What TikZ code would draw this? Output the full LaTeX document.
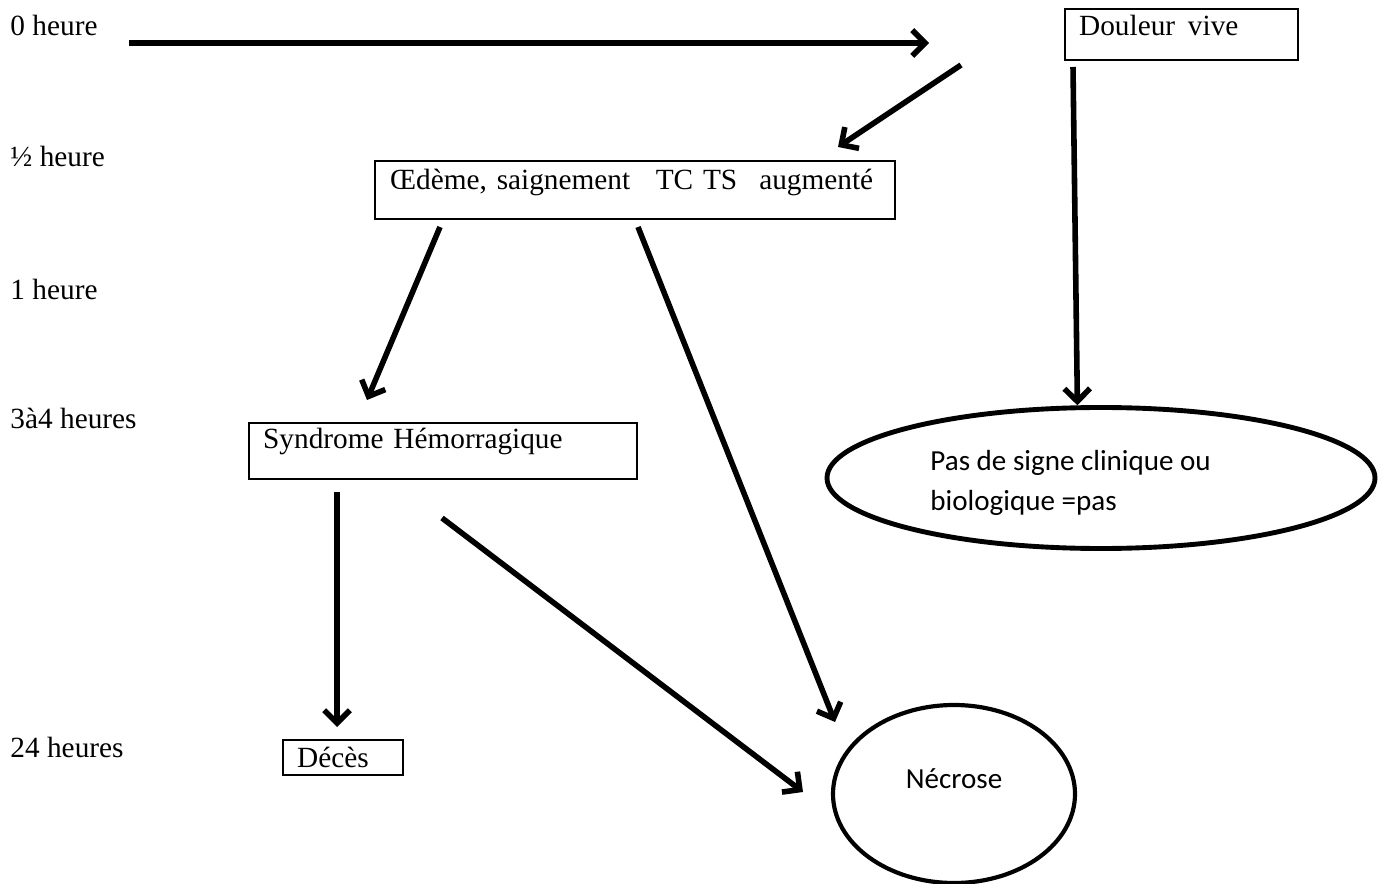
\documentclass[tikz,border=0pt]{standalone}
\usepackage{fontspec}
\setmainfont{Liberation Serif}
\newfontfamily\carlito{Carlito}
\usepackage{tikz}
\usetikzlibrary{arrows.meta,positioning,shapes.geometric}
\newdimen\px
\px=0.43pt
\tikzset{
boite/.style={
  draw=black,
  line width=1pt,
  anchor=north west,
  inner ysep=0pt,
  inner xsep=14\px,
  align=left,
  font=\fontsize{12.6}{14}\selectfont,
  }
}
\tikzset{
bulle/.style={
  ellipse,
  draw=black,
  line width=2.1pt,
  inner sep=0pt,
  }
}
\tikzset{
heure/.style={
  anchor=base west,
  inner sep=0pt,
  font=\fontsize{12.6}{14}\selectfont,
  }
}
\tikzset{
fleche/.style={
  line width=2.4pt,
  -{Straight Barb[length=5.5pt,width=11pt]}
  }
}

\begin{document}
\begin{tikzpicture}[x=0.43pt,y=-0.43pt]
    \useasboundingbox (0,0) rectangle (1387,884);

    % echelle de temps
    \node[heure] (h0) at (10,36) {0 heure};
    \node[heure] (hdemi) at (10,167) {½ heure};
    \node[heure] (h1) at (10,300) {1 heure};
    \node[heure] (h34) at (10,429) {3à4 heures};
    \node[heure] (h24) at (10,757) {24 heures};

    % boites
    \node[boite, text width=205\px, text height=26\px, text depth=25\px] (dlr) at (1064,8) {\mbox{Douleur\hspace{5.5pt}vive}};
    \node[boite, inner xsep=15\px, text width=490\px, text height=28\px, text depth=30\px] (oed) at (374,160) {\mbox{Œdème, saignement\hspace{11pt}TC TS\hspace{9.5pt}augmenté}};
    \node[boite, text width=360\px, text height=25\px, text depth=31\px] (synd) at (248,422) {\mbox{Syndrome Hémorragique}};
    \node[boite, text width=92\px, text height=27\px, text depth=8\px] (dec) at (282,739) {\mbox{Décès}};

    % ellipses
    \node[bulle, minimum width=548\px, minimum height=141\px] (pas) at (1101,478) {};
    \node[anchor=base west, align=left, inner sep=0pt, font=\carlito\fontsize{12.5}{16.8}\selectfont] (pastxt) at (930,510) {Pas de signe clinique ou\\biologique =pas};
    \node[bulle, line width=1.8pt, minimum width=242\px, minimum height=178\px, font=\carlito\fontsize{12.5}{14}\selectfont, text height=8pt, text depth=13pt] (necr) at (954,794) {Nécrose};

    % extremites libres
    \coordinate (t0) at (129,43);
    \coordinate (t1) at (929,43);
    \coordinate (d1) at (961,65);
    \coordinate (d2) at (838,147);
    \coordinate (d3) at (1073,67);
    \coordinate (o1) at (440,227);
    \coordinate (o2) at (367,400);
    \coordinate (o3) at (638,227);
    \coordinate (o4) at (835,722);
    \coordinate (s1) at (337,492);
    \coordinate (s2) at (337,727);
    \coordinate (s3) at (442,518);
    \coordinate (s4) at (803,792);

    % fleches
    \draw[fleche] (t0) -- (t1);
    \draw[fleche] (d1) -- (d2);
    \draw[fleche] (d3) -- (pas.108);
    \draw[fleche] (o1) -- (o2);
    \draw[fleche] (o3) -- (o4);
    \draw[fleche] (s1) -- (s2);
    \draw[fleche] (s3) -- (s4);
\end{tikzpicture}
\end{document}
